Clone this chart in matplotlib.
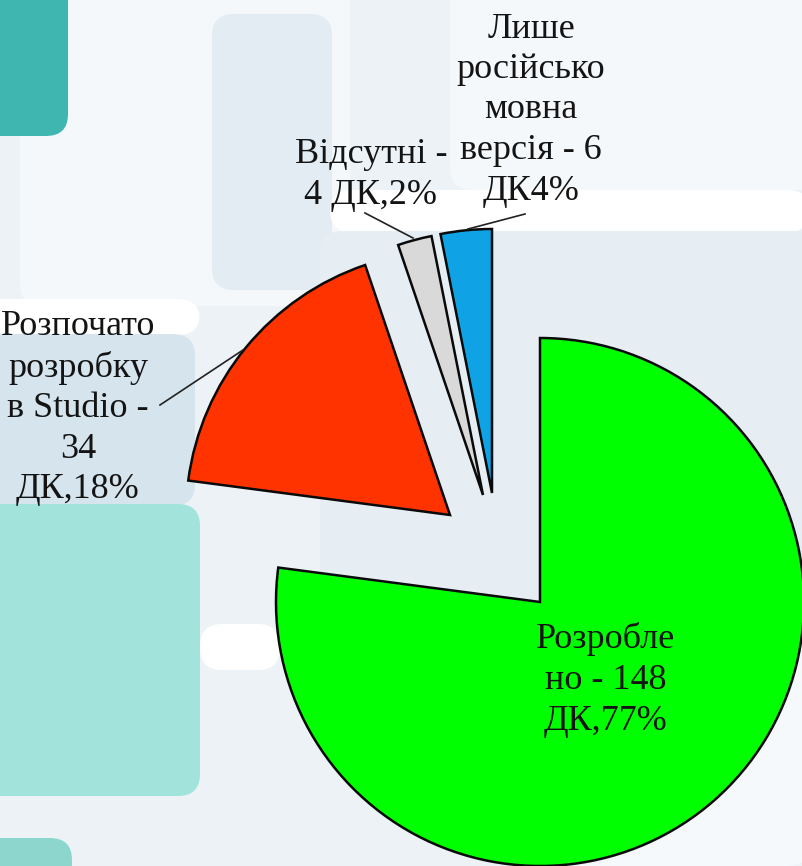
"""Exploded pie: status of course development (ДК), redrawn from a slide."""

import matplotlib.pyplot as plt
from matplotlib.patches import FancyBboxPatch

# data
values = [148, 34, 4, 6]
labels = [
    "Розробле\nно - 148\nДК,77%",
    "Розпочато\nрозробку\nв Studio -\n34\nДК,18%",
    "Відсутні -\n4 ДК,2%",
    "Лише\nросійсько\nмовна\nверсія - 6\nДК4%",
]
colors = ["#00FF00", "#FF3300", "#D9D9D9", "#0FA3E6"]

# layout (pixel-like coords, y up)
W, H = 802, 866
center = (540, 264)
radius = 264
shifts = [(0, 0), (-90, 87), (-57, 107), (-48, 109)]
label_pos = [(606, 186), (78, 458), (371, 691), (531, 756)]
leaders = [None, ((160, 461), (243, 516)), ((365, 653), (413, 628)), ((525, 652), (468, 637))]

fig = plt.figure(figsize=(W / 100, H / 100), dpi=100)
ax = fig.add_axes([0, 0, 1, 1])

# slide background
ax.add_patch(plt.Rectangle((0, 0), W, H, color="#ECF2F6", zorder=0))
bg = [
    # x, y, w, h, colour
    (20, 560, 330, 330, "#F4F8FA"),
    (212, 576, 120, 276, "#E3ECF2"),
    (450, 676, 380, 220, "#F5F8FA"),
    (330, 634, 480, 42, "#FFFFFF"),
    (-20, 531, 220, 36, "#FFFFFF"),
    (-20, 360, 215, 172, "#D6E5ED"),
    (320, 250, 500, 385, "#E6EEF3"),
    (200, 196, 80, 46, "#FFFFFF"),
    (540, 0, 270, 270, "#F6F9FB"),
    (-20, 730, 88, 160, "#3FB6B0"),
    (-20, 70, 220, 292, "#A2E4DB"),
    (-20, -30, 92, 58, "#8CD6CE"),
]
for x, y, w, h, c in bg:
    ax.add_patch(FancyBboxPatch((x, y), w, h, boxstyle="round,pad=0,rounding_size=22",
                                facecolor=c, edgecolor="none", zorder=0))

wedges, _ = ax.pie(values, colors=colors, startangle=90, counterclock=False,
                   center=center, radius=radius,
                   wedgeprops=dict(edgecolor="#0A0A0A", linewidth=1.8))
for wdg, (dx, dy) in zip(wedges, shifts):
    wdg.set_center((center[0] + dx, center[1] + dy))
    wdg.set_zorder(2)

for line in leaders:
    if line:
        (x0, y0), (x1, y1) = line
        ax.plot([x0, x1], [y0, y1], color="#222222", lw=1.2, zorder=3)

for txt, (x, y) in zip(labels, label_pos):
    ax.text(x, y, txt, ha="center", va="center", fontsize=26,
            family="Liberation Serif", color="#141414", linespacing=1.3, zorder=4)

ax.set_xlim(0, W)
ax.set_ylim(0, H)
ax.set_aspect("auto")
ax.axis("off")

fig.savefig("out.png", dpi=100)
